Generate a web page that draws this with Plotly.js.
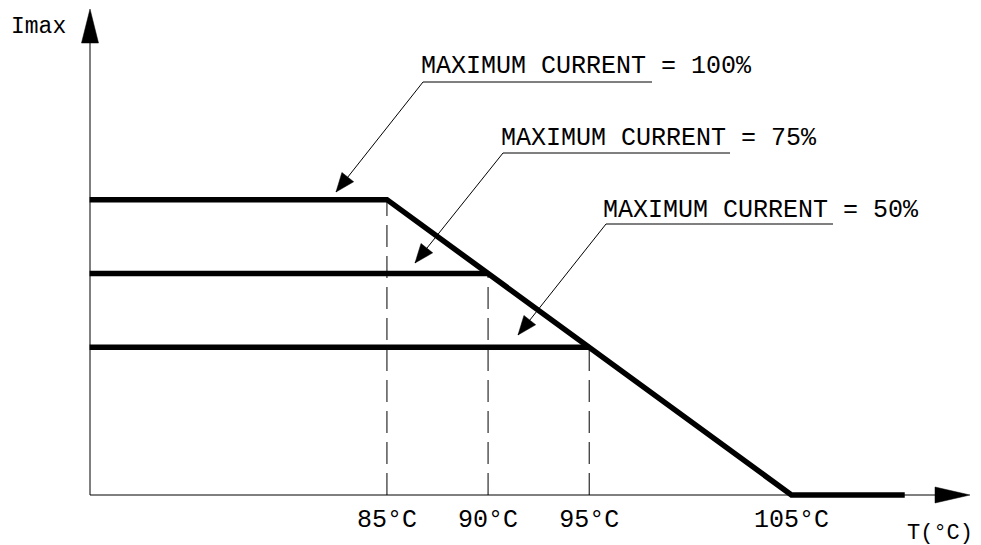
<!DOCTYPE html>
<html><head><meta charset="utf-8">
<script src="https://cdn.plot.ly/plotly-3.0.1.min.js"></script>
<style>html,body{margin:0;padding:0;background:#fff}#chart{width:981px;height:545px}</style>
</head><body><div id="chart"></div>
<script>
// ---- data ----
const tOrigin = 70.3;                 // temperature at the vertical axis
const curveT = [70.3, 85, 105, 110.6]; // derating curve temperatures (°C)
const curveI = [100, 100, 0, 0];       // maximum current (%)
const limitT = [85, 90, 95];           // knee temperatures
const limitI = [100, 75, 50];          // current limits (%)
const tickT = [85, 90, 95, 105];
const tickText = ['85°C', '90°C', '95°C', '105°C'];
const labelText = ['MAXIMUM CURRENT = 100%', 'MAXIMUM CURRENT = 75%', 'MAXIMUM CURRENT = 50%'];

// ---- layout helpers (pixel -> paper for decorations) ----
const W = 981, H = 545;
const X = p => p / W, Y = p => 1 - p / H;
const FONT = {family: 'Liberation Mono, DejaVu Sans Mono, monospace', size: 25, color: '#000'};

const traces = [];
// main derating curve
traces.push({x: curveT, y: curveI, mode: 'lines', line: {color: '#000', width: 5.5}, hoverinfo: 'skip'});
// horizontal limit lines (75 %, 50 %)
for (let i = 1; i < limitI.length; i++) {
  traces.push({x: [tOrigin, limitT[i]], y: [limitI[i], limitI[i]], mode: 'lines',
    line: {color: '#000', width: 5.5}, hoverinfo: 'skip'});
}
// dashed drop lines
for (let i = 0; i < limitT.length; i++) {
  traces.push({x: [limitT[i], limitT[i]], y: [0, limitI[i]], mode: 'lines',
    line: {color: '#000', width: 1, dash: '22px,9px'}, hoverinfo: 'skip'});
}

const shapes = [];
const annotations = [];
function line(x0, y0, x1, y1, w) {
  shapes.push({type: 'line', xref: 'paper', yref: 'paper', x0: X(x0), y0: Y(y0), x1: X(x1), y1: Y(y1),
    line: {color: '#000', width: w || 1}});
}
function tri(a, b, c) {
  shapes.push({type: 'path', xref: 'paper', yref: 'paper',
    path: `M${X(a[0])},${Y(a[1])} L${X(b[0])},${Y(b[1])} L${X(c[0])},${Y(c[1])} Z`,
    fillcolor: '#000', line: {color: '#000', width: 0.5}});
}
function arrowHead(s, t, len, hw) {
  const dx = t[0] - s[0], dy = t[1] - s[1], d = Math.hypot(dx, dy);
  const ux = dx / d, uy = dy / d, bx = t[0] - len * ux, by = t[1] - len * uy;
  tri(t, [bx - hw * uy, by + hw * ux], [bx + hw * uy, by - hw * ux]);
}
// axes
line(90, 495, 965, 495);
line(90, 495, 90, 14);
tri([970, 495], [935, 487], [935, 503]);
tri([90, 9], [81.5, 43], [98.5, 43]);

// labels with leaders
const leaders = [
  {tx: 419, ty: 66, ul: [423, 652, 82], tip: [336, 192]},
  {tx: 499, ty: 138, ul: [503, 730, 153], tip: [415, 263]},
  {tx: 601, ty: 210, ul: [606, 833, 224], tip: [518, 335]}
];
leaders.forEach((L, i) => {
  annotations.push({text: labelText[i], xref: 'paper', yref: 'paper', x: X(L.tx), y: Y(L.ty),
    xanchor: 'left', yanchor: 'middle', showarrow: false, font: FONT});
  line(L.ul[0], L.ul[2], L.ul[1], L.ul[2]);
  line(L.ul[0], L.ul[2], L.tip[0], L.tip[1]);
  arrowHead([L.ul[0], L.ul[2]], L.tip, 19, 7.5);
});
annotations.push({text: 'Imax', xref: 'paper', yref: 'paper', x: X(9), y: Y(27),
  xanchor: 'left', yanchor: 'middle', showarrow: false, font: Object.assign({}, FONT, {size: 23})});
annotations.push({text: 'T(°C)', xref: 'paper', yref: 'paper', x: X(975), y: Y(533),
  xanchor: 'right', yanchor: 'middle', showarrow: false, font: Object.assign({}, FONT, {size: 22})});

const layout = {
  width: W, height: H, margin: {l: 0, r: 0, t: 0, b: 0},
  paper_bgcolor: '#fff', plot_bgcolor: '#fff', showlegend: false,
  xaxis: {range: [65.87, 114.37], anchor: 'free', position: 50 / H,
    showgrid: false, zeroline: false, showline: false, ticks: '',
    tickmode: 'array', tickvals: tickT, ticktext: tickText, tickfont: FONT, ticklabelstandoff: 6},
  yaxis: {range: [-16.93, 167.6], showgrid: false, zeroline: false, showline: false,
    showticklabels: false, ticks: ''},
  shapes: shapes, annotations: annotations
};
Plotly.newPlot('chart', traces, layout, {displayModeBar: false, staticPlot: true});
</script></body></html>
